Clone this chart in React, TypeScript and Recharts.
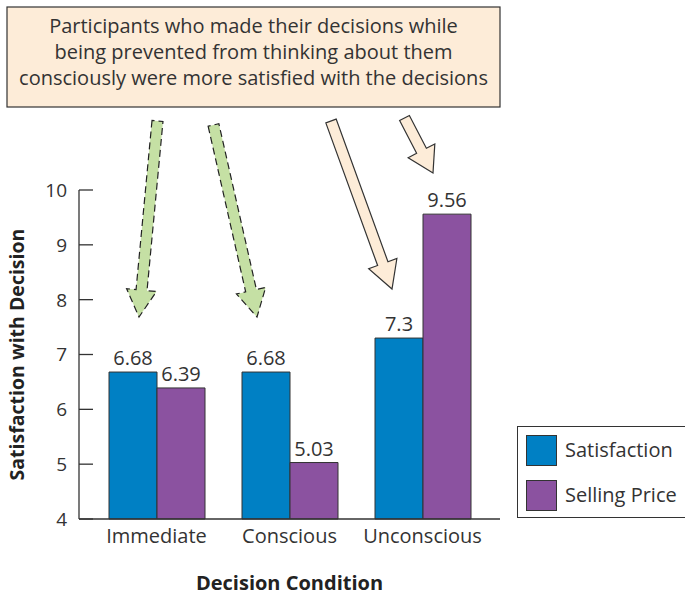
import { BarChart, Bar, XAxis, YAxis, Legend, LabelList } from "recharts";

const conditions = ["Immediate", "Conscious", "Unconscious"];
const satisfaction = [6.68, 6.68, 7.3];
const sellingPrice = [6.39, 5.03, 9.56];
const yTicks = [4, 5, 6, 7, 8, 9, 10];
const calloutLines = [
  "Participants who made their decisions while",
  "being prevented from thinking about them",
  "consciously were more satisfied with the decisions",
];

const BLUE = "#0080c4";
const PURPLE = "#8b52a0";
const INK = "#333333";
const PEACH = "#fdecd8";
const GREEN = "#c5e0a4";
const FONT = "'Open Sans', Lato, sans-serif";

const data = conditions.map((c, i) => ({
  condition: c,
  satisfaction: satisfaction[i],
  sellingPrice: sellingPrice[i],
}));

// callout arrow outline from tail centre to tip
const arrowPoints = (tx: number, ty: number, px: number, py: number, w = 5.5, h = 15, len = 27) => {
  const dx = px - tx;
  const dy = py - ty;
  const d = Math.hypot(dx, dy);
  const ux = dx / d;
  const uy = dy / d;
  const nx = -uy;
  const ny = ux;
  const bx = px - ux * len;
  const by = py - uy * len;
  const pts = [
    [tx + nx * w, ty + ny * w],
    [bx + nx * w, by + ny * w],
    [bx + nx * h, by + ny * h],
    [px, py],
    [bx - nx * h, by - ny * h],
    [bx - nx * w, by - ny * w],
    [tx - nx * w, ty - ny * w],
  ];
  return pts.map((p) => p.join(",")).join(" ");
};

const YTick = ({ x, y, payload }: any) => (
  <g>
    <line x1={x + 12} x2={x + 26} y1={y} y2={y} stroke={INK} strokeWidth={1.3} />
    <text x={x} y={y} dy="0.36em" textAnchor="end" fontSize={19} fill={INK}>
      {payload.value}
    </text>
  </g>
);

const LegendBox = () => (
  <div
    style={{
      width: 175,
      height: 92,
      border: `1px solid ${INK}`,
      background: "#fff",
      boxSizing: "border-box",
      position: "relative",
      fontFamily: FONT,
    }}
  >
    {[
      { name: "Satisfaction", color: BLUE, top: 8 },
      { name: "Selling Price", color: PURPLE, top: 53 },
    ].map((it) => (
      <div key={it.name}>
        <div
          style={{
            position: "absolute",
            left: 8,
            top: it.top,
            width: 31,
            height: 31,
            background: it.color,
            border: `1px solid ${INK}`,
            boxSizing: "border-box",
          }}
        />
        <div
          style={{
            position: "absolute",
            left: 47,
            top: it.top + 2,
            fontSize: 20,
            lineHeight: "26px",
            color: INK,
          }}
        >
          {it.name}
        </div>
      </div>
    ))}
  </div>
);

export default function App() {
  return (
    <div style={{ position: "absolute", left: 0, top: 0, width: 685, height: 598, fontFamily: FONT, background: "#fff" }}>
      <BarChart
        width={685}
        height={598}
        data={data}
        margin={{ top: 190, right: 185, bottom: 49, left: 19 }}
        barCategoryGap={19}
        barGap={0}
      >
        <XAxis
          dataKey="condition"
          axisLine={{ stroke: INK, strokeWidth: 1.3 }}
          tickLine={false}
          tickSize={0}
          tickMargin={10}
          height={30}
          padding={{ left: 11, right: 11 }}
          tick={{ fill: INK, fontSize: 20 }}
          label={{
            value: "Decision Condition",
            position: "bottom",
            offset: 27,
            fill: "#222",
            fontSize: 20,
            fontWeight: 700,
          }}
        />
        <YAxis
          domain={[4, 10]}
          ticks={yTicks}
          width={60}
          axisLine={{ stroke: INK, strokeWidth: 1.3 }}
          tickLine={false}
          tickSize={0}
          tickMargin={12}
          tick={<YTick />}
          label={{
            value: "Satisfaction with Decision",
            angle: -90,
            position: "center",
            dx: -32,
            fill: "#222",
            fontSize: 19.5,
            fontWeight: 700,
          }}
        />
        <Legend
          layout="horizontal"
          verticalAlign="middle"
          align="center"
          wrapperStyle={{ left: 517, top: 426, width: 175 }}
          content={() => <LegendBox />}
        />
        <Bar dataKey="satisfaction" name="Satisfaction" fill={BLUE} stroke={INK} strokeWidth={1} isAnimationActive={false}>
          <LabelList dataKey="satisfaction" position="top" offset={7} fill={INK} fontSize={20} />
        </Bar>
        <Bar dataKey="sellingPrice" name="Selling Price" fill={PURPLE} stroke={INK} strokeWidth={1} isAnimationActive={false}>
          <LabelList dataKey="sellingPrice" position="top" offset={7} fill={INK} fontSize={20} />
        </Bar>
      </BarChart>
      <svg width={685} height={598} style={{ position: "absolute", left: 0, top: 0, pointerEvents: "none" }}>
        <rect x={7} y={7} width={493} height={100} fill={PEACH} stroke={INK} strokeWidth={1.2} />
        {calloutLines.map((line, i) => (
          <text key={i} x={253.5} y={33 + i * 26} textAnchor="middle" fontSize={20} fill={INK}>
            {line}
          </text>
        ))}
        <polygon points={arrowPoints(157.5, 121, 139, 317)} fill={GREEN} stroke="#222" strokeWidth={1.2} strokeDasharray="7 4" />
        <polygon points={arrowPoints(213.5, 125, 257, 317)} fill={GREEN} stroke="#222" strokeWidth={1.2} strokeDasharray="7 4" />
        <polygon points={arrowPoints(331, 121, 392, 289)} fill={PEACH} stroke={INK} strokeWidth={1.2} />
        <polygon points={arrowPoints(404.5, 118, 433, 173, 5.5, 15, 25)} fill={PEACH} stroke={INK} strokeWidth={1.2} />
      </svg>
    </div>
  );
}
